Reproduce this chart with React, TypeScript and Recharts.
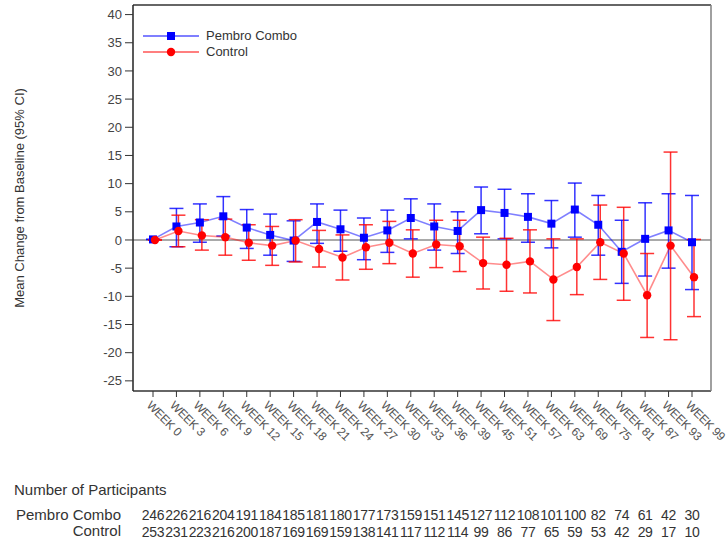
import React from 'react';
import {
  LineChart,
  Line,
  XAxis,
  YAxis,
  ErrorBar,
  ReferenceLine,
  Legend,
} from 'recharts';

const weeks = [
  'WEEK 0', 'WEEK 3', 'WEEK 6', 'WEEK 9', 'WEEK 12', 'WEEK 15', 'WEEK 18', 'WEEK 21',
  'WEEK 24', 'WEEK 27', 'WEEK 30', 'WEEK 33', 'WEEK 36', 'WEEK 39', 'WEEK 45', 'WEEK 51',
  'WEEK 57', 'WEEK 63', 'WEEK 69', 'WEEK 75', 'WEEK 81', 'WEEK 87', 'WEEK 93', 'WEEK 99',
];

// Pembro Combo: mean change and 95% CI bounds
const pembroMean = [0.1, 2.4, 3.1, 4.2, 2.2, 0.9, -0.1, 3.2, 1.9, 0.4, 1.7, 3.9, 2.4, 1.6, 5.3, 4.8, 4.1, 2.9, 5.4, 2.7, -2.1, 0.2, 1.7, -0.4];
const pembroLow = [0.1, -1.2, -0.4, 0.7, -1.5, -2.7, -3.8, -0.6, -2.0, -3.5, -2.2, 0.2, -1.8, -2.4, 1.1, 0.2, -0.4, -1.4, 0.5, -2.7, -7.7, -6.4, -5.0, -8.8];
const pembroHigh = [0.1, 5.6, 6.4, 7.7, 5.4, 4.6, 3.4, 6.4, 5.3, 3.9, 5.3, 7.3, 6.4, 5.0, 9.4, 9.0, 8.2, 7.0, 10.1, 7.9, 3.5, 6.6, 8.2, 7.9];

// Control: mean change and 95% CI bounds
const controlMean = [0, 1.6, 0.8, 0.5, -0.5, -1.0, -0.1, -1.6, -3.1, -1.3, -0.5, -2.4, -0.8, -1.1, -4.1, -4.4, -3.8, -7.0, -4.8, -0.4, -2.4, -9.8, -1.0, -6.6];
const controlLow = [0, -1.2, -1.8, -2.7, -3.6, -4.5, -3.9, -4.8, -7.1, -5.2, -4.2, -6.6, -4.9, -5.6, -8.7, -9.1, -9.4, -14.3, -9.7, -7.0, -10.7, -17.3, -17.7, -13.6];
const controlHigh = [0, 4.4, 3.6, 3.7, 2.7, 2.4, 3.6, 1.7, 0.9, 2.7, 3.3, 1.8, 3.5, 3.5, 0.5, 0.3, 1.8, 0.2, 0.2, 6.2, 5.8, -2.4, 15.6, 0.1];

// Number of participants per visit
const pembroN = [246, 226, 216, 204, 191, 184, 185, 181, 180, 177, 173, 159, 151, 145, 127, 112, 108, 101, 100, 82, 74, 61, 42, 30];
const controlN = [253, 231, 223, 216, 200, 187, 169, 169, 159, 138, 141, 117, 112, 114, 99, 86, 77, 65, 59, 53, 42, 29, 17, 10];

const yTicks = [-25, -20, -15, -10, -5, 0, 5, 10, 15, 20, 25, 30, 35, 40];

const BLUE = '#0000ff';
const RED = '#ff0000';
const FONT = '"Liberation Sans", Arial, sans-serif';

const data = weeks.map((week, i) => ({
  week,
  pembro: pembroMean[i],
  pembroErr: [pembroMean[i] - pembroLow[i], pembroHigh[i] - pembroMean[i]],
  control: controlMean[i],
  controlErr: [controlMean[i] - controlLow[i], controlHigh[i] - controlMean[i]],
}));

const SquareDot = (props: any) => {
  const { cx, cy, index } = props;
  if (cx == null || cy == null) return <g key={`sq-${index}`} />;
  return <rect key={`sq-${index}`} x={cx - 4} y={cy - 4} width={8} height={8} fill={BLUE} />;
};

const CircleDot = (props: any) => {
  const { cx, cy, index } = props;
  if (cx == null || cy == null) return <g key={`ci-${index}`} />;
  return <circle key={`ci-${index}`} cx={cx} cy={cy} r={4.2} fill={RED} />;
};

// Rotated week label plus the participant counts underneath each visit
const WeekTick = (props: any) => {
  const { x, y, payload, index } = props;
  const i = payload && payload.index != null ? payload.index : index;
  return (
    <g>
      <text
        transform={`translate(${x},${y}) rotate(45)`}
        x={0}
        y={10}
        fontSize={12}
        letterSpacing={-0.3}
        fontFamily={FONT}
        fill="#555"
        textAnchor="start"
      >
        {payload.value}
      </text>
      <text x={x} y={y + 121} fontSize={14} letterSpacing={-0.3} fontFamily={FONT} fill="#333" textAnchor="middle">
        {pembroN[i]}
      </text>
      <text x={x} y={y + 138} fontSize={14} letterSpacing={-0.3} fontFamily={FONT} fill="#333" textAnchor="middle">
        {controlN[i]}
      </text>
    </g>
  );
};

const YTitle = (props: any) => {
  const vb = props.viewBox || { y: 5, height: 386 };
  const cy = vb.y + vb.height / 2;
  return (
    <text
      transform={`translate(24,${cy}) rotate(-90)`}
      textAnchor="middle"
      fontSize={13}
      fontFamily={FONT}
      fill="#333"
    >
      Mean Change from Baseline (95% CI)
    </text>
  );
};

const LegendBox = () => (
  <div style={{ fontFamily: FONT, fontSize: 13, color: '#333', lineHeight: '16px' }}>
    <div style={{ display: 'flex', alignItems: 'center', height: 16 }}>
      <svg width={66} height={16}>
        <line x1={3} y1={8} x2={59} y2={8} stroke={BLUE} strokeWidth={1.2} />
        <rect x={27} y={4} width={8} height={8} fill={BLUE} />
      </svg>
      <span>Pembro Combo</span>
    </div>
    <div style={{ display: 'flex', alignItems: 'center', height: 16 }}>
      <svg width={66} height={16}>
        <line x1={3} y1={8} x2={59} y2={8} stroke={RED} strokeWidth={1.2} />
        <circle cx={31} cy={8} r={4.2} fill={RED} />
      </svg>
      <span>Control</span>
    </div>
  </div>
);

const tableLabel: React.CSSProperties = {
  position: 'absolute',
  fontFamily: FONT,
  fontSize: 15,
  color: '#333',
  whiteSpace: 'nowrap',
};

export default function App() {
  return (
    <div style={{ position: 'absolute', left: 0, top: 0, width: 727, height: 544, background: '#fff' }}>
      <LineChart
        width={727}
        height={544}
        data={data}
        margin={{ top: 4, right: 15, bottom: 0, left: 0 }}
      >
        <XAxis
          dataKey="week"
          interval={0}
          padding={{ left: 20, right: 19 }}
          height={153}
          tickSize={6}
          tickMargin={2}
          axisLine={{ stroke: '#333', strokeWidth: 1.5 }}
          tickLine={{ stroke: '#333' }}
          tick={<WeekTick />}
        />
        <XAxis xAxisId="shift" dataKey="week" hide padding={{ left: 22, right: 17 }} />
        <XAxis
          xAxisId="top"
          orientation="top"
          dataKey="week"
          height={1}
          tick={false}
          tickLine={false}
          axisLine={{ stroke: '#333', strokeWidth: 1.5 }}
        />
        <YAxis
          type="number"
          domain={[-26.8, 41.7]}
          ticks={yTicks}
          interval={0}
          width={133}
          tickSize={8}
          tickMargin={3}
          axisLine={{ stroke: '#222', strokeWidth: 1.5 }}
          tickLine={{ stroke: '#333' }}
          tick={{ fontSize: 13, fontFamily: FONT, fill: '#444' }}
          label={<YTitle />}
        />
        <YAxis
          yAxisId="right"
          orientation="right"
          width={1}
          domain={[-26.8, 41.7]}
          tick={false}
          tickLine={false}
          axisLine={{ stroke: '#808080', strokeWidth: 1.5 }}
        />
        <ReferenceLine y={0} stroke="#8c8c8c" strokeWidth={1.5} />
        <Legend
          layout="vertical"
          align="center"
          verticalAlign="middle"
          content={<LegendBox />}
          wrapperStyle={{ left: 140, top: 28, width: 200, height: 32 }}
        />
        <Line
          dataKey="pembro"
          name="Pembro Combo"
          stroke={BLUE}
          strokeOpacity={0.5}
          strokeWidth={1.6}
          dot={SquareDot}
          activeDot={false}
          isAnimationActive={false}
        >
          <ErrorBar dataKey="pembroErr" direction="y" width={7} stroke={BLUE} strokeOpacity={0.8} strokeWidth={1.5} />
        </Line>
        <Line
          xAxisId="shift"
          dataKey="control"
          name="Control"
          stroke={RED}
          strokeOpacity={0.45}
          strokeWidth={1.6}
          dot={CircleDot}
          activeDot={false}
          isAnimationActive={false}
        >
          <ErrorBar dataKey="controlErr" direction="y" width={7} stroke={RED} strokeOpacity={0.8} strokeWidth={1.5} />
        </Line>
      </LineChart>
      <div style={{ ...tableLabel, left: 14, top: 481 }}>Number of Participants</div>
      <div style={{ ...tableLabel, left: 0, width: 121, top: 506, textAlign: 'right' }}>Pembro Combo</div>
      <div style={{ ...tableLabel, left: 0, width: 121, top: 522, textAlign: 'right' }}>Control</div>
    </div>
  );
}
